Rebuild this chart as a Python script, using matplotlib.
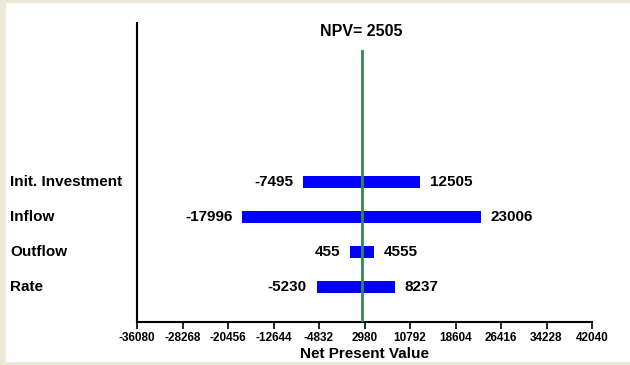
import matplotlib.pyplot as plt
import matplotlib.transforms as mtransforms
from matplotlib.patches import Rectangle

# tornado data (NPV sensitivity)
categories = ["Init. Investment", "Inflow", "Outflow", "Rate"]
low_values = [-7495, -17996, 455, -5230]
high_values = [12505, 23006, 4555, 8237]
npv = 2505
x_ticks = [-36080, -28268, -20456, -12644, -4832, 2980, 10792, 18604, 26416, 34228, 42040]

plt.rcParams['font.family'] = ['Liberation Sans', 'DejaVu Sans']
plt.rcParams['font.weight'] = 'bold'

W, H = 630, 365
fig = plt.figure(figsize=(W / 100, H / 100), dpi=100)
fig.patch.set_facecolor('#ECE9D8')
# white panel inside the beige window frame
fig.patches.append(Rectangle((6 / W, 3 / H), 1 - 6 / W, 1 - 6 / H,
                             transform=fig.transFigure, facecolor='white',
                             edgecolor='none', zorder=-5))

ax = fig.add_axes([137 / W, 1 - 322 / H, (592 - 137) / W, (322 - 23) / H])
ax.set_facecolor('none')

ypos = [4, 3, 2, 1]
for y, lo, hi in zip(ypos, low_values, high_values):
    ax.barh(y, hi - lo, left=lo, height=0.33, color='#0000FF', zorder=2)
    ax.annotate(str(lo), (lo, y), xytext=(-7, 0), textcoords='offset points',
                ha='right', va='center', fontsize=11, fontweight='bold')
    ax.annotate(str(hi), (hi, y), xytext=(7, 0), textcoords='offset points',
                ha='left', va='center', fontsize=11, fontweight='bold')

# category labels, left aligned near the window edge
trans = mtransforms.blended_transform_factory(fig.transFigure, ax.transData)
for y, name in zip(ypos, categories):
    ax.text(10 / W, y, name, transform=trans, ha='left', va='center',
            fontsize=11, fontweight='bold')

# NPV line
ax.plot([npv, npv], [0, 7.74], color='#2E8B57', linewidth=2, zorder=3)
ax.text(npv, 8.3, "NPV= %d" % npv, ha='center', va='center',
        fontsize=11.5, fontweight='bold')

ax.set_xlim(x_ticks[0], x_ticks[-1])
ax.set_ylim(0, 8.54)
ax.set_xticks(x_ticks)
ax.set_xticklabels([str(t) for t in x_ticks], fontsize=8.5, fontweight='bold')
ax.set_yticks([])
ax.tick_params(axis='x', length=5, width=1.2, pad=2)
for s in ['top', 'right']:
    ax.spines[s].set_visible(False)
for s in ['left', 'bottom']:
    ax.spines[s].set_linewidth(1.5)
    ax.spines[s].set_color('black')

ax.set_xlabel("Net Present Value", fontsize=11, fontweight='bold', labelpad=2)

fig.savefig('out.png', dpi=100, facecolor=fig.get_facecolor())
